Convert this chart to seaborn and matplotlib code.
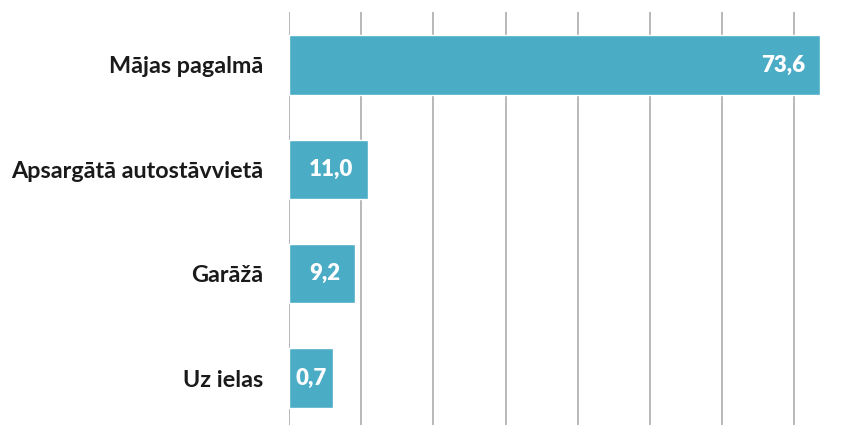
import matplotlib

matplotlib.use("Agg")
import matplotlib.pyplot as plt
import pandas as pd
import seaborn as sns

categories = ["Mājas pagalmā", "Apsargātā autostāvvietā", "Garāžā", "Uz ielas"]
# bar lengths as drawn in the picture (the last bar is longer than its label says)
bar_lengths = [73.6, 11.0, 9.2, 6.1]
value_labels = ["73,6", "11,0", "9,2", "0,7"]
grid_ticks = [0, 10, 20, 30, 40, 50, 60, 70]

BAR_COLOR = "#4BACC6"
GRID_COLOR = "#A6A6A6"
FONT = ["Lato", "DejaVu Sans"]


def main() -> None:
    sns.set_theme(style="white")
    plt.rcParams["font.family"] = FONT

    df = pd.DataFrame({"category": categories, "length": bar_lengths, "label": value_labels})

    fig = plt.figure(figsize=(8.57, 4.25), dpi=100)
    ax = fig.add_axes([289 / 857, 0.0, 1 - 289 / 857, 1 - 12 / 425])

    sns.barplot(data=df, x="length", y="category", color=BAR_COLOR, saturation=1, width=0.57, ax=ax)

    ax.set_xlim(0, (857 - 289) / 72.2 * 10)
    ax.set_ylim(3 + 47 / 104.4, -53 / 104.4)
    ax.set_xticks(grid_ticks)
    ax.xaxis.grid(True, color=GRID_COLOR, linewidth=1.1)
    ax.set_axisbelow(True)
    ax.tick_params(axis="x", length=0, labelbottom=False)
    ax.tick_params(axis="y", length=0, pad=18.5)
    for label in ax.get_yticklabels():
        label.set_fontsize(16.8)
        label.set_fontweight("bold")
        label.set_color("#1a1a1a")
    for spine in ax.spines.values():
        spine.set_visible(False)
    ax.set_xlabel("")
    ax.set_ylabel("")

    for i, row in df.iterrows():
        if row["length"] < 8:
            ax.text(row["length"] / 2, i, row["label"], ha="center", va="center",
                    color="white", fontsize=16, fontweight="heavy")
        else:
            ax.annotate(row["label"], xy=(row["length"], i), xytext=(-11, 0), textcoords="offset points",
                        ha="right", va="center", color="white", fontsize=16, fontweight="heavy")

    fig.savefig("out.png", dpi=100)
    plt.close(fig)


if __name__ == "__main__":
    main()
